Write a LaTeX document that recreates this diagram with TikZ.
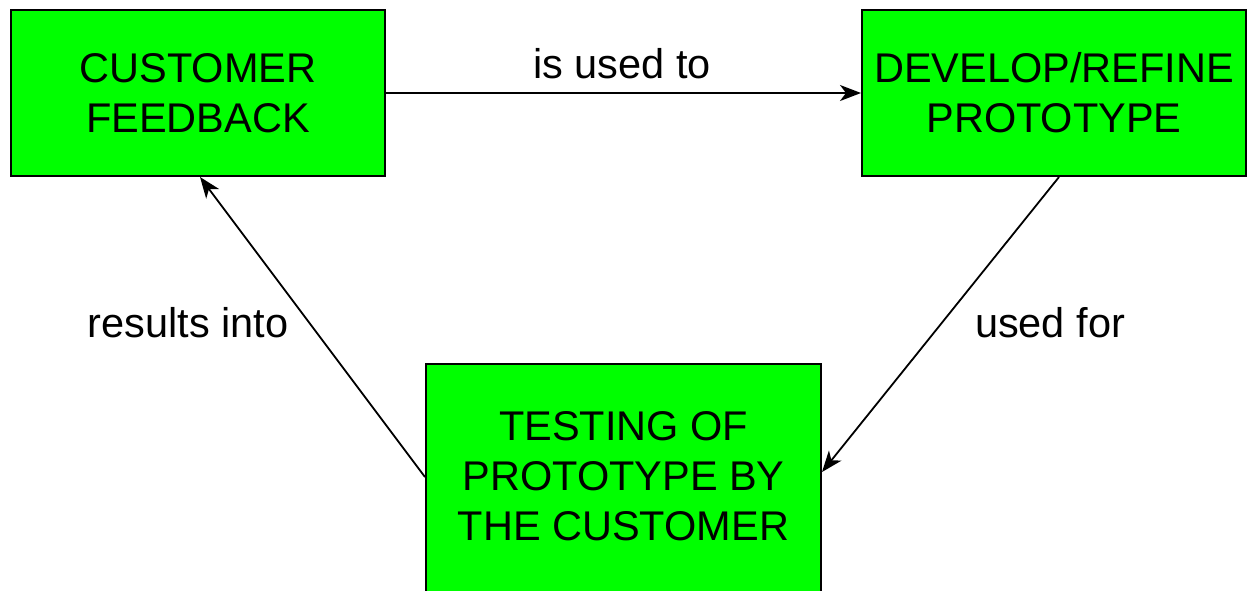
\documentclass[tikz,border=0pt]{standalone}
\usepackage{fontspec}
\setmainfont{Liberation Sans}
\usetikzlibrary{arrows.meta}
\definecolor{boxgreen}{RGB}{0,255,0}
\tikzset{
  box/.style={draw=black, line width=2pt, fill=boxgreen, align=center, inner sep=0pt,
    font=\fontsize{41.5}{50}\selectfont},
  conn/.style={draw=black, line width=1.8pt, -{Stealth[length=21pt,width=16pt,inset=6pt]}},
  lbl/.style={font=\fontsize{41.5}{44}\selectfont, anchor=base, inner sep=0pt}
}
\begin{document}
\begin{tikzpicture}[x=1pt,y=-1pt]
\useasboundingbox (0,0) rectangle (1255,590);
\node[box, minimum width=374pt, minimum height=166pt] (cf) at (198,93) {CUSTOMER\\FEEDBACK};
\node[box, minimum width=384pt, minimum height=166pt] (dr) at (1054,93) {DEVELOP/REFINE\\PROTOTYPE};
\node[box, minimum width=395pt, minimum height=236pt, text depth=12pt] (tp) at (623.5,482) {TESTING OF\\PROTOTYPE BY\\THE CUSTOMER};
\draw[conn] (cf.east) -- (dr.west);
\draw[conn] ([xshift=5pt]dr.south) -- ([yshift=10pt]tp.east);
\draw[conn] ([yshift=5pt]tp.west) -- ([xshift=2pt]cf.south);
\node[lbl] (l1) at (622,78) {is used to};
\node[lbl] (l2) at (1050,337) {used for};
\node[lbl] (l3) at (188,337) {results into};
\end{tikzpicture}
\end{document}
